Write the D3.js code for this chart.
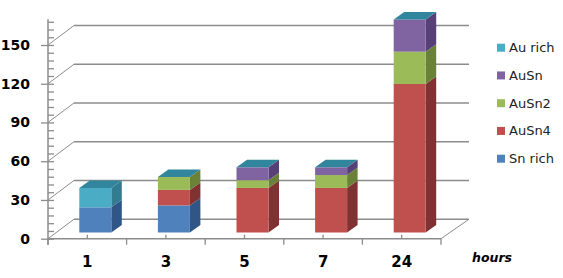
<!DOCTYPE html>
<html>
<head>
<meta charset="utf-8">
<script src="https://cdn.jsdelivr.net/npm/d3@7"></script>
<style>
html,body{margin:0;padding:0;background:#fff;}
svg{display:block;}
text{font-family:"DejaVu Sans",sans-serif;fill:#000;}
</style>
</head>
<body>
<svg id="chart" width="563" height="278"></svg>
<script>
const categories = ["1", "3", "5", "7", "24"];
const seriesNames = ["Sn rich", "AuSn4", "AuSn2", "AuSn", "Au rich"];
const snRich = [19.5, 21, 0, 0, 0];
const auSn4 = [0, 12, 34.5, 34.5, 115];
const auSn2 = [0, 10, 6, 10, 25];
const auSn = [0, 0, 10, 6, 25];
const auRich = [15, 0, 0, 0, 0];
const frontColors = ["#4f81bd", "#c0504d", "#9bbb59", "#8064a2", "#4bacc6"];
const sideColors = ["#305688", "#7f3231", "#6a8238", "#574077", "#337c90"];
const topColor = "#31859c";
const majorTicks = [0, 30, 60, 90, 120, 150];
const minorTicks = d3.range(0, 169, 6);

const svg = d3.select("#chart");
const x = d3.scaleBand().domain(categories).range([48, 441]);
const y = d3.scaleLinear().domain([0, 150]).range([238.7, 45]);

// Oblique offsets for the back wall and for the bars' own depth
const wallDx = 26, wallDy = -19.5, sideDx = 28;
const barDx = 10.5, barDy = -7.5, barW = 32, barInsetX = 8, barLift = 6.2;
const gridColor = "#8c8c8c";

const grid = svg.append("g").attr("stroke", gridColor).attr("fill", "none");
grid.selectAll("line.wall").data(majorTicks).join("line")
  .attr("class", "wall")
  .attr("x1", 48 + wallDx).attr("x2", 441 + sideDx)
  .attr("y1", d => y(d) + wallDy).attr("y2", d => y(d) + wallDy)
  .attr("stroke-width", 1.5);
grid.selectAll("line.side").data(majorTicks).join("line")
  .attr("class", "side")
  .attr("x1", 48).attr("x2", 48 + wallDx)
  .attr("y1", d => y(d)).attr("y2", d => y(d) + wallDy)
  .attr("stroke-width", 1);
grid.append("line")
  .attr("x1", 441).attr("x2", 441 + sideDx)
  .attr("y1", y(0)).attr("y2", y(0) + wallDy);

// Vertical axis: a tick every 6 units, labels on the multiples of 30
const yAxis = svg.append("g").attr("transform", "translate(48,0)")
  .call(d3.axisRight(y).tickValues(minorTicks).tickSize(6).tickFormat(""));
yAxis.select(".domain").remove();
yAxis.selectAll(".tick line").attr("stroke", gridColor).attr("stroke-width", 1.3);
svg.append("line").attr("x1", 48).attr("x2", 48)
  .attr("y1", y(170)).attr("y2", y(0) + 6)
  .attr("stroke", gridColor).attr("stroke-width", 1.5);
const yLabels = svg.append("g").attr("transform", "translate(48,0)")
  .call(d3.axisLeft(y).tickValues(majorTicks).tickSize(7).tickPadding(11));
yLabels.select(".domain").remove();
yLabels.selectAll(".tick line").attr("stroke", gridColor).attr("stroke-width", 1.3);
yLabels.selectAll(".tick text")
  .style("font-family", '"DejaVu Sans",sans-serif')
  .style("font-size", "14px").style("font-weight", "bold").attr("fill", "#000");

// Horizontal axis with group separators and centred category marks
const baseline = svg.append("g");
baseline.append("line").attr("x1", 48).attr("x2", 441)
  .attr("y1", y(0)).attr("y2", y(0))
  .attr("stroke", gridColor).attr("stroke-width", 1.5);
const edges = categories.map(c => x(c)).concat([x.range()[1]]);
baseline.selectAll("line.sep").data(edges).join("line")
  .attr("class", "sep")
  .attr("x1", d => d).attr("x2", d => d)
  .attr("y1", y(0)).attr("y2", y(0) + 6)
  .attr("stroke", gridColor).attr("stroke-width", 1.3);
baseline.selectAll("line.mark").data(categories).join("line")
  .attr("class", "mark")
  .attr("x1", d => x(d) + x.bandwidth() / 2).attr("x2", d => x(d) + x.bandwidth() / 2)
  .attr("y1", y(0) - 4).attr("y2", y(0))
  .attr("stroke", gridColor).attr("stroke-width", 1.3);
baseline.selectAll("text").data(categories).join("text")
  .attr("x", d => x(d) + x.bandwidth() / 2).attr("y", 267)
  .attr("text-anchor", "middle")
  .style("font-size", "15px").style("font-weight", "bold")
  .text(d => d);

svg.append("text").attr("x", 472).attr("y", 261.5)
  .style("font-size", "12.5px").style("font-weight", "bold").style("font-style", "italic")
  .text("hours");

// Stacked 3D columns, drawn from the series values
const stackedSeries = [snRich, auSn4, auSn2, auSn, auRich];
const bars = svg.append("g");
categories.forEach((cat, i) => {
  const left = x(cat) + x.bandwidth() / 2 + barInsetX - barW / 2;
  const right = left + barW;
  const level = v => y(v) - barLift;
  let running = 0;
  stackedSeries.forEach((values, s) => {
    const v = values[i];
    if (v === 0) return;
    const y0 = level(running), y1 = level(running + v);
    bars.append("polygon")
      .attr("points", [[right, y0], [right + barDx, y0 + barDy], [right + barDx, y1 + barDy], [right, y1]].join(" "))
      .attr("fill", sideColors[s]);
    bars.append("rect")
      .attr("x", left).attr("y", y1)
      .attr("width", barW).attr("height", y0 - y1)
      .attr("fill", frontColors[s]);
    running += v;
  });
  const yt = level(running);
  bars.append("polygon")
    .attr("points", [[left, yt], [left + barDx, yt + barDy], [right + barDx, yt + barDy], [right, yt]].join(" "))
    .attr("fill", topColor);
});

// Legend lists the series from the top of the stack downwards
const legendY = d3.scalePoint().domain(seriesNames.slice().reverse()).range([47.7, 158.7]);
const legend = svg.append("g").selectAll("g").data(seriesNames).join("g")
  .attr("transform", d => `translate(497,${legendY(d)})`);
legend.append("rect").attr("x", 0).attr("y", -4).attr("width", 8).attr("height", 8)
  .attr("fill", (d, i) => frontColors[i]);
legend.append("text").attr("x", 12).attr("y", 4.5)
  .style("font-size", "13px").style("fill", "#222")
  .text(d => d);
</script>
</body>
</html>
